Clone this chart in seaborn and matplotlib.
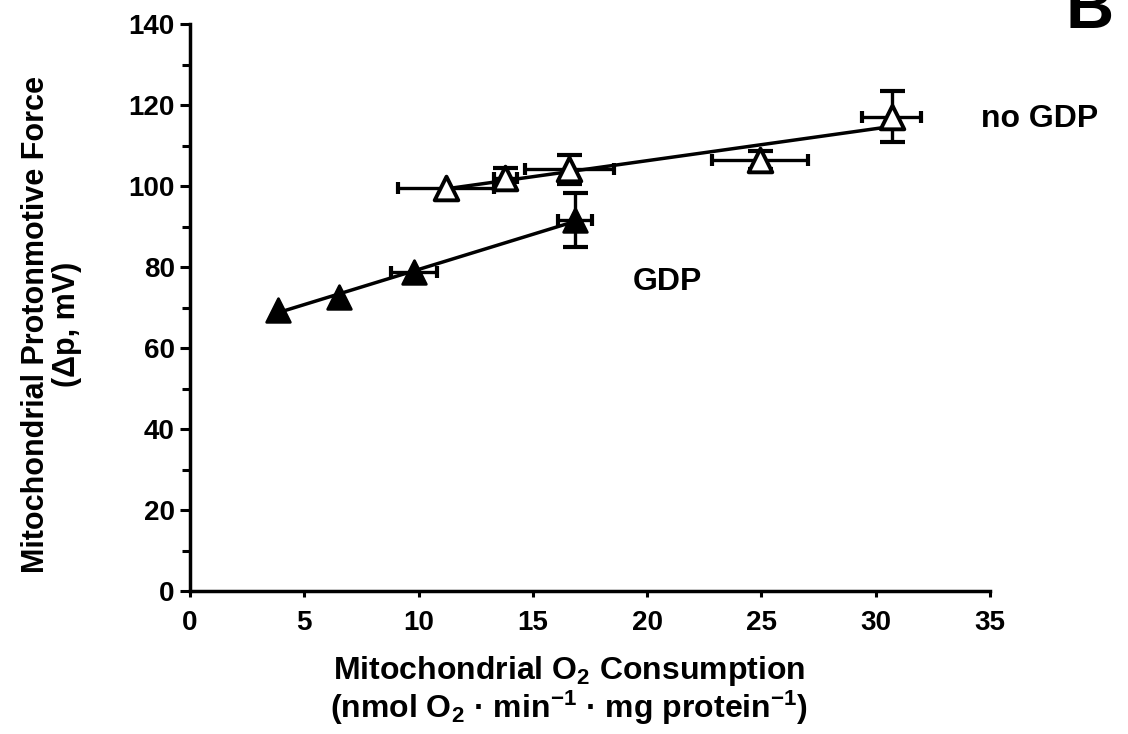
import numpy as np
import pandas as pd
import matplotlib
matplotlib.use("Agg")
import matplotlib.pyplot as plt
import seaborn as sns
from matplotlib.ticker import MultipleLocator

# ---- data ----
gdp_x = [3.85, 6.5, 9.8, 16.85]
gdp_y = [69.5, 72.6, 78.8, 91.6]
gdp_xerr = [0.0, 0.0, 1.0, 0.75]
gdp_yerr = [0.0, 0.0, 0.0, 6.6]

nogdp_x = [11.2, 13.8, 16.6, 24.95, 30.7]
nogdp_y = [99.5, 102.0, 104.2, 106.4, 117.2]
nogdp_xerr = [2.1, 0.5, 1.95, 2.1, 1.3]
nogdp_yerr = [0.0, 2.6, 3.6, 2.2, 6.2]

x_ticks = [0, 5, 10, 15, 20, 25, 30, 35]
y_ticks = [0, 20, 40, 60, 80, 100, 120, 140]

sns.set_theme(style="ticks")
plt.rcParams['font.family'] = ['Liberation Sans', 'DejaVu Sans']
plt.rcParams['font.weight'] = 'bold'
plt.rcParams['text.color'] = 'black'
plt.rcParams['axes.labelcolor'] = 'black'
plt.rcParams['xtick.color'] = 'black'
plt.rcParams['ytick.color'] = 'black'
plt.rcParams['mathtext.fontset'] = 'custom'
plt.rcParams['mathtext.rm'] = 'Liberation Sans:bold'
plt.rcParams['mathtext.it'] = 'Liberation Sans:bold'
plt.rcParams['mathtext.bf'] = 'Liberation Sans:bold'
plt.rcParams['mathtext.sf'] = 'Liberation Sans:bold'
plt.rcParams['mathtext.default'] = 'rm'

fig = plt.figure(figsize=(11.28, 7.34), dpi=100)
ax = fig.add_axes([0.1684, 0.1948, 0.8777 - 0.1684, 0.967 - 0.1948])

df_g = pd.DataFrame({"x": gdp_x, "y": gdp_y})
df_n = pd.DataFrame({"x": nogdp_x, "y": nogdp_y})

# regression lines
sns.regplot(data=df_g, x="x", y="y", ax=ax, ci=None, scatter=False, truncate=True,
            line_kws=dict(color="black", lw=2.5, zorder=2))
sns.regplot(data=df_n, x="x", y="y", ax=ax, ci=None, scatter=False, truncate=True,
            line_kws=dict(color="black", lw=2.5, zorder=2))

# error bars (y with wide caps, x with small caps)
for xs, ys, xe, ye in [(gdp_x, gdp_y, gdp_xerr, gdp_yerr), (nogdp_x, nogdp_y, nogdp_xerr, nogdp_yerr)]:
    xs_y = [a for a, e in zip(xs, ye) if e > 0]
    ys_y = [b for b, e in zip(ys, ye) if e > 0]
    ye_y = [e for e in ye if e > 0]
    xs_x = [a for a, e in zip(xs, xe) if e > 0]
    ys_x = [b for b, e in zip(ys, xe) if e > 0]
    xe_x = [e for e in xe if e > 0]
    ax.errorbar(xs_y, ys_y, yerr=ye_y, fmt='none', ecolor='black', elinewidth=2.4, capsize=9, capthick=3, zorder=3)
    ax.errorbar(xs_x, ys_x, xerr=xe_x, fmt='none', ecolor='black', elinewidth=2.4, capsize=4, capthick=3, zorder=3)

# markers
sns.scatterplot(data=df_g, x="x", y="y", ax=ax, marker='^', s=290, color='black',
                edgecolor='black', linewidth=2, zorder=4, legend=False)
sns.scatterplot(data=df_n, x="x", y="y", ax=ax, marker='^', s=290, color='white',
                edgecolor='black', linewidth=2.8, zorder=4, legend=False)

ax.set_xlim(0, 35)
ax.set_ylim(0, 140)
ax.set_xticks(x_ticks)
ax.set_yticks(y_ticks)
ax.yaxis.set_minor_locator(MultipleLocator(10))
sns.despine(ax=ax)
for s in ['left', 'bottom']:
    ax.spines[s].set_linewidth(2.5)
    ax.spines[s].set_color('black')
ax.tick_params(axis='y', which='major', direction='out', length=7, width=2.2, labelsize=20, pad=4, colors='black')
ax.tick_params(axis='y', which='minor', direction='out', length=6, width=2.2)
ax.tick_params(axis='x', which='major', direction='out', length=4, width=2.2, labelsize=20, pad=10, colors='black')
for lab in ax.get_xticklabels() + ax.get_yticklabels():
    lab.set_fontweight('bold')

ax.set_xlabel("Mitochondrial O$_2$ Consumption\n"
              "(nmol O$_2$ · min$^{\\mathsf{-1}}$ · mg protein$^{\\mathsf{-1}}$)",
              fontsize=23, fontweight='bold', linespacing=1.0)
ax.xaxis.set_label_coords(0.474, -0.112)
ax.set_ylabel("Mitochondrial Protonmotive Force\n(Δp, mV)",
              fontsize=22, fontweight='bold', linespacing=1.02)
ax.yaxis.set_label_coords(-0.135, 0.47)

ax.text(34.6, 116.5, "no GDP", fontsize=23, fontweight='bold', ha='left', va='center', clip_on=False)
ax.text(20.9, 76.3, "GDP", fontsize=23, fontweight='bold', ha='center', va='center')
fig.text(0.966, 0.962, "B", fontsize=48, fontweight='bold', ha='center', va='baseline')

fig.savefig("out.png", dpi=100, facecolor='white')
